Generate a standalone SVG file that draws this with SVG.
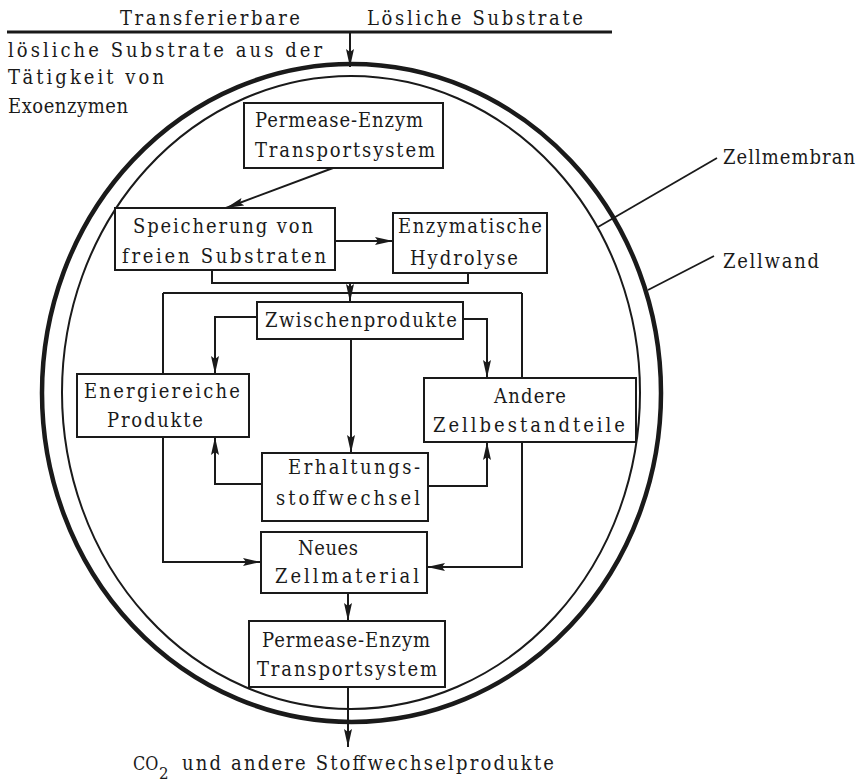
<svg xmlns="http://www.w3.org/2000/svg" width="858" height="784" viewBox="0 0 858 784">
<style>
  text { font-family: "DejaVu Serif", "Liberation Serif", serif; font-size: 18px; fill: #1a1a1a; }
  .box { fill: #fff; stroke: #1a1a1a; stroke-width: 2; }
  .wire { fill: none; stroke: #1a1a1a; stroke-width: 2; }
  .wall { fill: none; stroke: #1a1a1a; stroke-width: 4.5; }
  .membrane { fill: none; stroke: #1a1a1a; stroke-width: 2; }
  .leader { fill: none; stroke: #1a1a1a; stroke-width: 1.8; }
</style>
<defs>
  <marker id="arr" markerUnits="userSpaceOnUse" markerWidth="20" markerHeight="10" refX="18" refY="4.5" orient="auto">
    <path d="M0,0.5 L18,4.5 L0,8.5 L3,4.5 z" fill="#1a1a1a"/>
  </marker>
</defs>
<rect width="858" height="784" fill="#fff"/>

<g id="cell">
  <ellipse class="wall" cx="351.5" cy="393" rx="309.5" ry="329"/>
  <ellipse class="membrane" cx="351" cy="392.5" rx="289" ry="316.5"/>
</g>

<g id="header">
  <line x1="7" y1="32" x2="612" y2="32" stroke="#1a1a1a" stroke-width="2.8"/>
  <text transform="translate(120,25) scale(1,1.15)" textLength="180" lengthAdjust="spacing">Transferierbare</text>
  <text transform="translate(367,25) scale(1,1.15)" textLength="216" lengthAdjust="spacing">Lösliche Substrate</text>
  <text transform="translate(8,57) scale(1,1.15)" textLength="314" lengthAdjust="spacing">lösliche Substrate aus der</text>
  <text transform="translate(8,84) scale(1,1.15)" textLength="156" lengthAdjust="spacing">Tätigkeit von</text>
  <text transform="translate(8,113) scale(1,1.15)" textLength="120" lengthAdjust="spacing">Exoenzymen</text>
</g>

<g id="labels">
  <line class="leader" x1="598" y1="227" x2="717" y2="158"/>
  <line class="leader" x1="648" y1="290" x2="714" y2="256"/>
  <text transform="translate(723,164) scale(1,1.15)" textLength="132" lengthAdjust="spacing">Zellmembran</text>
  <text transform="translate(723,268) scale(1,1.15)" textLength="96" lengthAdjust="spacing">Zellwand</text>
</g>

<g id="connectors">
  <path class="wire" d="M350,32 L350,67" marker-end="url(#arr)"/>
  <path class="wire" d="M333,168 L226,208" marker-end="url(#arr)"/>
  <path class="wire" d="M335,241 L393,241" marker-end="url(#arr)"/>
  <path class="wire" d="M212,270 L212,283 L468,283 L468,273"/>
  <path class="wire" d="M350,283 L350,302" marker-end="url(#arr)"/>
  <path class="wire" d="M163,293 L522,293"/>
  <path class="wire" d="M257,317 L215,317 L215,374" marker-end="url(#arr)"/>
  <path class="wire" d="M463,319 L487,319 L487,378" marker-end="url(#arr)"/>
  <path class="wire" d="M351,339 L351,453" marker-end="url(#arr)"/>
  <path class="wire" d="M262,484 L215,484 L215,437" marker-end="url(#arr)"/>
  <path class="wire" d="M428,486 L487,486 L487,442" marker-end="url(#arr)"/>
  <path class="wire" d="M163,293 L163,562 L261,562" marker-end="url(#arr)"/>
  <path class="wire" d="M522,293 L522,567 L427,567" marker-end="url(#arr)"/>
  <path class="wire" d="M348,593 L348,621" marker-end="url(#arr)"/>
  <path class="wire" d="M348,687 L348,747" marker-end="url(#arr)"/>
</g>

<g id="permease-in">
  <rect class="box" x="244" y="103" width="199" height="65"/>
  <text transform="translate(255,127) scale(1,1.15)" textLength="168" lengthAdjust="spacing">Permease-Enzym</text>
  <text transform="translate(255,157) scale(1,1.15)" textLength="180" lengthAdjust="spacing">Transportsystem</text>
</g>

<g id="speicherung">
  <rect class="box" x="115" y="208" width="220" height="62"/>
  <text transform="translate(133,233) scale(1,1.15)" textLength="180" lengthAdjust="spacing">Speicherung von</text>
  <text transform="translate(122,263) scale(1,1.15)" textLength="204" lengthAdjust="spacing">freien Substraten</text>
</g>

<g id="hydrolyse">
  <rect class="box" x="393" y="213" width="154" height="60"/>
  <text transform="translate(398,233) scale(1,1.15)" textLength="144" lengthAdjust="spacing">Enzymatische</text>
  <text transform="translate(410,265) scale(1,1.15)" textLength="108" lengthAdjust="spacing">Hydrolyse</text>
</g>

<g id="zwischenprodukte">
  <rect class="box" x="257" y="302" width="206" height="37"/>
  <text transform="translate(265,327) scale(1,1.15)" textLength="192" lengthAdjust="spacing">Zwischenprodukte</text>
</g>

<g id="energiereiche">
  <rect class="box" x="77" y="374" width="172" height="63"/>
  <text transform="translate(84,398) scale(1,1.15)" textLength="156" lengthAdjust="spacing">Energiereiche</text>
  <text transform="translate(107,427) scale(1,1.15)" textLength="96" lengthAdjust="spacing">Produkte</text>
</g>

<g id="andere">
  <rect class="box" x="424" y="378" width="212" height="64"/>
  <text transform="translate(494,403) scale(1,1.15)" textLength="72" lengthAdjust="spacing">Andere</text>
  <text transform="translate(433,432) scale(1,1.15)" textLength="192" lengthAdjust="spacing">Zellbestandteile</text>
</g>

<g id="erhaltung">
  <rect class="box" x="262" y="453" width="166" height="68"/>
  <text transform="translate(288,474) scale(1,1.15)" textLength="132" lengthAdjust="spacing">Erhaltungs-</text>
  <text transform="translate(276,505) scale(1,1.15)" textLength="144" lengthAdjust="spacing">stoffwechsel</text>
</g>

<g id="neues">
  <rect class="box" x="261" y="532" width="166" height="61"/>
  <text transform="translate(298,555) scale(1,1.15)" textLength="60" lengthAdjust="spacing">Neues</text>
  <text transform="translate(275,583) scale(1,1.15)" textLength="144" lengthAdjust="spacing">Zellmaterial</text>
</g>

<g id="permease-out">
  <rect class="box" x="249" y="621" width="196" height="66"/>
  <text transform="translate(262,647) scale(1,1.15)" textLength="168" lengthAdjust="spacing">Permease-Enzym</text>
  <text transform="translate(257,676) scale(1,1.15)" textLength="180" lengthAdjust="spacing">Transportsystem</text>
</g>

<g id="output">
  <text transform="translate(133,770) scale(1,1.15)"><tspan font-size="16">CO</tspan><tspan x="26" dy="7.5" font-size="15">2</tspan></text>
  <text transform="translate(182,770) scale(1,1.15)" textLength="372" lengthAdjust="spacing">und andere Stoffwechselprodukte</text>
</g>
</svg>
